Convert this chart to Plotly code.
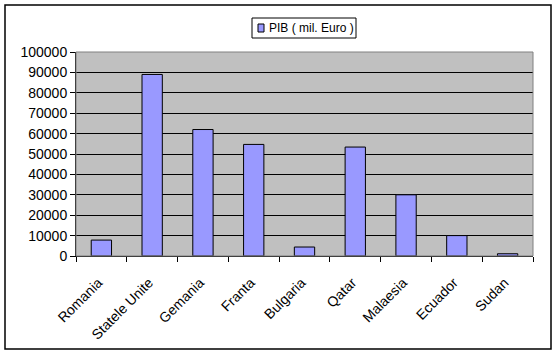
import plotly.graph_objects as go

categories = ["Romania", "Statele Unite", "Gemania", "Franta", "Bulgaria",
              "Qatar", "Malaesia", "Ecuador", "Sudan"]
pib = [7800, 89000, 62000, 54700, 4400, 53400, 30000, 10000, 1100]
series_name = "PIB ( mil. Euro )"
y_ticks = list(range(0, 100001, 10000))

W, H = 558, 355
L, R, T, B = 76, 25, 52, 99
pw, ph = W - L - R, H - T - B
BAR_COLOR = "#9999FF"

fig = go.Figure()
fig.add_trace(go.Bar(
    x=categories, y=pib, name=series_name, showlegend=False,
    marker=dict(color=BAR_COLOR, line=dict(color="black", width=1)),
))

def px_x(v):
    return (v - L) / pw

def px_y(v):
    return (H - B - v) / ph

fig.update_layout(
    width=W, height=H,
    margin=dict(l=L, r=R, t=T, b=B, pad=0),
    paper_bgcolor="white",
    plot_bgcolor="#C0C0C0",
    bargap=0.6,
    font=dict(family="Liberation Sans, Arial, sans-serif", color="black", size=14),
    xaxis=dict(
        type="category", tickangle=-45, showline=True, linecolor="black",
        ticks="outside", tickson="boundaries", ticklen=5, tickcolor="black",
        showgrid=False, tickfont=dict(size=14), ticklabelstandoff=12,
        ticklabelshift=-3,
    ),
    yaxis=dict(
        range=[0, 100000], tickvals=y_ticks, ticktext=[str(v) for v in y_ticks],
        showline=True, linecolor="black", ticks="outside", ticklen=5,
        tickcolor="black", showgrid=True, gridcolor="black", gridwidth=1,
        zeroline=False, tickfont=dict(size=14),
    ),
    shapes=[
        dict(type="rect", xref="paper", yref="paper", x0=0, x1=1, y0=0, y1=1,
             line=dict(color="#808080", width=1), layer="above"),
        dict(type="rect", xref="paper", yref="paper",
             x0=px_x(5), x1=px_x(551), y0=px_y(349), y1=px_y(5),
             line=dict(color="black", width=1.5)),
        # legend box
        dict(type="rect", xref="paper", yref="paper",
             x0=px_x(252), x1=px_x(356), y0=px_y(38), y1=px_y(18),
             line=dict(color="black", width=1), fillcolor="white"),
        # legend swatch
        dict(type="rect", xref="paper", yref="paper",
             x0=px_x(258), x1=px_x(264), y0=px_y(32), y1=px_y(24),
             line=dict(color="black", width=1), fillcolor=BAR_COLOR),
    ],
    annotations=[
        dict(text=series_name, xref="paper", yref="paper",
             x=px_x(267), y=px_y(28), xanchor="left", yanchor="middle",
             showarrow=False, font=dict(size=12, color="black")),
    ],
)

fig.write_html("out.html")
